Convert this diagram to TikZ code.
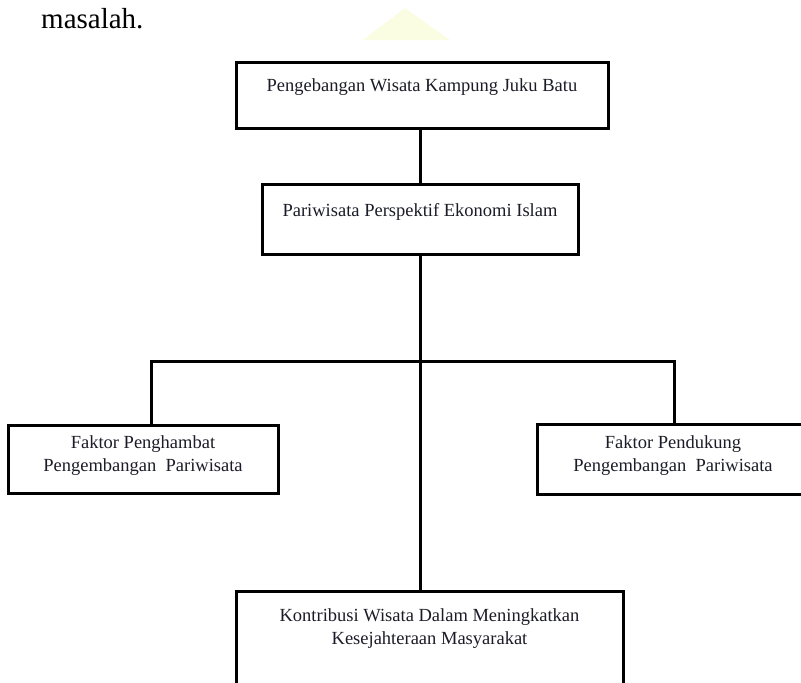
\documentclass[tikz,border=0pt]{standalone}
\usepackage{fontspec}
\setmainfont{Liberation Serif}
\usetikzlibrary{positioning}
\definecolor{tinta}{RGB}{28,28,40}
\definecolor{bayang}{RGB}{250,253,226}
\tikzset{
  kotak/.style={draw=black, line width=3pt, rectangle, inner sep=0pt},
  teks/.style={inner sep=0pt, align=center, text=tinta,
    font=\fontsize{18.5}{23}\selectfont},
  garis/.style={draw=black, line width=3pt},
}
\begin{document}
\begin{tikzpicture}[x=1pt, y=-1pt]
  \useasboundingbox (0,0) rectangle (801,683);
  % faint watermark behind the page text
  \fill[bayang] (363,40) -- (405,8) -- (450,40) -- cycle;
  \node[anchor=base west, inner sep=0pt, font=\fontsize{29}{34}\selectfont] (judul) at (41,28) {masalah.};

  % boxes
  \node[kotak, minimum width=372pt, minimum height=66pt] (k1) at (422,95) {};
  \node[kotak, minimum width=316pt, minimum height=70pt] (k2) at (420,219) {};
  \node[kotak, minimum width=270pt, minimum height=68pt] (k3) at (143,459) {};
  \node[kotak, minimum width=269pt, minimum height=70pt] (k4) at (671.5,459) {};
  \node[kotak, minimum width=387pt, minimum height=129pt] (k5) at (429.5,655.5) {};

  % texts
  \node[teks, below=18pt of k1.north] (t1) {Pengebangan Wisata Kampung Juku Batu};
  \node[teks, below=21pt of k2.north] (t2) {Pariwisata Perspektif Ekonomi Islam};
  \node[teks, below=12pt of k3.north] (t3) {Faktor Penghambat\\Pengembangan~ Pariwisata};
  \node[teks, below=13pt of k4.north, xshift=1.5pt] (t4) {Faktor Pendukung\\Pengembangan~ Pariwisata};
  \node[teks, below=19pt of k5.north] (t5) {Kontribusi Wisata Dalam Meningkatkan\\Kesejahteraan Masyarakat};

  % connectors
  \coordinate (cab) at (420,361);
  \draw[garis] (k1.south -| k2.north) -- (k2.north);
  \draw[garis] (k2.south) -- (k2.south |- k5.north);
  \draw[garis] ([xshift=8pt]k3.north) |- (cab) -| ([xshift=2.5pt]k4.north);
\end{tikzpicture}
\end{document}
